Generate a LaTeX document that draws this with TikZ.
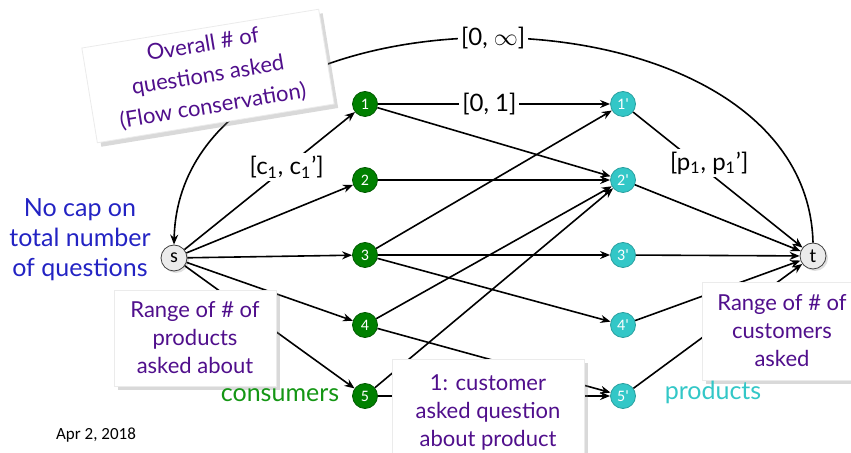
\documentclass[tikz,border=0pt]{standalone}
\usepackage{fontspec}
\setmainfont{Lato}
\newfontfamily\calibri{Carlito}
\usetikzlibrary{arrows.meta,shadows}
\definecolor{consgreen}{RGB}{0,128,0}
\definecolor{prodcyan}{RGB}{51,199,199}
\definecolor{notepurple}{RGB}{80,15,140}
\definecolor{capblue}{RGB}{35,35,195}
\definecolor{labgreen}{RGB}{20,150,20}

\begin{document}
\begin{tikzpicture}[x=0.5pt,y=-0.5pt,
    cnode/.style={circle, draw=consgreen!70!black, fill=consgreen, text=white, minimum size=12.5pt, inner sep=0pt, font=\calibri\footnotesize},
    pnode/.style={circle, draw=prodcyan!80!black, fill=prodcyan, text=white, minimum size=12.5pt, inner sep=0pt, font=\calibri\footnotesize},
    endnode/.style={circle, draw=black!75, fill=black!8, minimum size=13pt, inner sep=0pt, font=\calibri\normalsize, drop shadow={opacity=0.25, shadow xshift=1pt, shadow yshift=-1pt}},
    arrow/.style={-{Stealth[length=5pt, width=4pt]}, thick},
    edgelabel/.style={fill=white, inner sep=1.5pt, font=\fontsize{12}{14}\selectfont},
    note/.style={fill=white, draw=black!8, align=center, text=notepurple, font=\fontsize{11}{14}\selectfont, inner sep=2pt, drop shadow={opacity=0.3, shadow xshift=2pt, shadow yshift=-2pt}}
]
\useasboundingbox (0,0) rectangle (851,453);
\node[endnode] (s) at (174,258) {s};
\node[endnode] (t) at (813,256) {t};
\node[cnode] (c1) at (365,104) {1};
\node[cnode] (c2) at (365,180) {2};
\node[cnode] (c3) at (365,255) {3};
\node[cnode] (c4) at (365,325) {4};
\node[cnode] (c5) at (365,396) {5};
\node[pnode] (p1) at (623,104) {1'};
\node[pnode] (p2) at (623,180) {2'};
\node[pnode] (p3) at (623,255) {3'};
\node[pnode] (p4) at (623,325) {4'};
\node[pnode] (p5) at (623,396) {5'};
% source to consumers
\draw[arrow] (s) -- node[edgelabel, pos=0.6] {[c\textsubscript{1}, c\textsubscript{1}']} (c1);
\draw[arrow] (s) -- (c2);
\draw[arrow] (s) -- (c3);
\draw[arrow] (s) -- (c4);
\draw[arrow] (s) -- (c5);
% consumers to products
\draw[arrow] (c1) -- node[edgelabel, pos=0.48] {[0, 1]} (p1);
\draw[arrow] (c1) -- (p2);
\draw[arrow] (c2) -- (p2);
\draw[arrow] (c3) -- (p1);
\draw[arrow] (c3) -- (p3);
\draw[arrow] (c3) -- (p4);
\draw[arrow] (c4) -- (p2);
\draw[arrow] (c4) -- (p5);
\draw[arrow] (c5) -- (p2);
\draw[arrow] (c5) -- (p5);
% products to sink
\draw[arrow] (p1) -- node[edgelabel, pos=0.45, yshift=5pt] {[p\textsubscript{1}, p\textsubscript{1}']} (t);
\draw[arrow] (p2) -- (t);
\draw[arrow] (p3) -- (t);
\draw[arrow] (p4) -- (t);
\draw[arrow] (p5) -- (t);
% circulation edge
\draw[arrow] (t.north) .. controls (806,-30) and (180,-30) .. node[edgelabel, pos=0.5] {[0, $\infty$]} (s.north);
% notes
\node[note, rotate=9.3, minimum width=120pt, minimum height=48pt, font=\fontsize{11}{15.5}\selectfont] (noteflow) at (208,76) {Overall \# of\\questions asked\\(Flow conservation)};
\node[note, minimum width=81pt, minimum height=48pt] (noteprod) at (195,338) {Range of \# of\\products\\asked about};
\node[note, minimum width=96pt, minimum height=53pt] (noteask) at (488,412) {1: customer\\asked question\\about product};
\node[note, minimum width=80pt, minimum height=49pt] (notecust) at (782,331) {Range of \# of\\customers\\asked};
\node[text=capblue, align=center, font=\fontsize{12.5}{15}\selectfont] (nocap) at (80,240) {No cap on\\total number\\of questions};
\node[text=labgreen, font=\fontsize{12.5}{15}\selectfont] (consumers) at (280,395) {consumers};
\node[text=prodcyan, font=\fontsize{12.5}{15}\selectfont] (products) at (713,392) {products};
\node[font=\calibri\fontsize{8.5}{10}\selectfont] (date) at (96,435) {Apr 2, 2018};
\end{tikzpicture}
\end{document}
